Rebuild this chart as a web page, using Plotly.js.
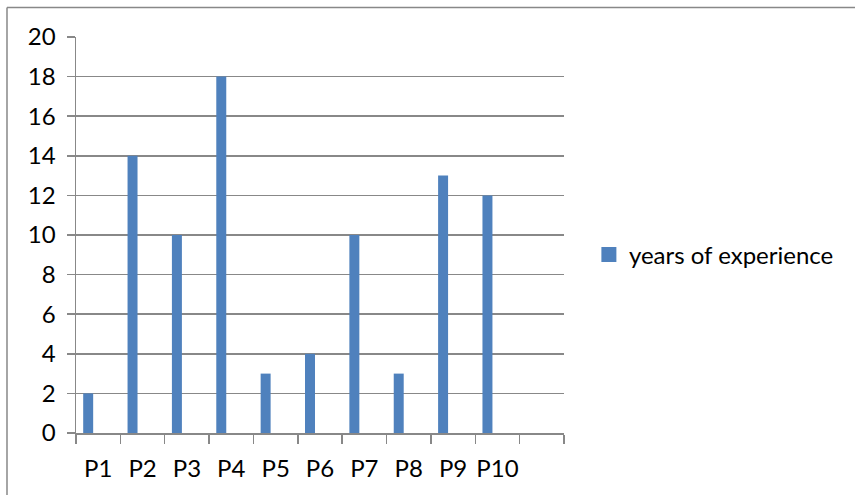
<!DOCTYPE html>
<html>
<head>
<meta charset="utf-8">
<script src="https://cdn.plot.ly/plotly-3.0.1.min.js"></script>
<style>
  html, body { margin: 0; padding: 0; background: #fff; }
  #chart { width: 855px; height: 495px; }
</style>
</head>
<body>
<div id="chart"></div>
<script>
// Participants and their years of experience
const categories = ['P1', 'P2', 'P3', 'P4', 'P5', 'P6', 'P7', 'P8', 'P9', 'P10'];
const years = [2, 14, 10, 18, 3, 4, 10, 3, 13, 12];
const seriesName = 'years of experience';
// one spare slot at the end of the category axis
const axisCategories = categories.concat([' ']);
const yTicks = [0, 2, 4, 6, 8, 10, 12, 14, 16, 18, 20];

const barColor = '#4F81BD';
const gridColor = '#888888';
const textFont = { family: 'Lato, "Open Sans", sans-serif', size: 24, color: '#000000' };

const bars = {
  type: 'bar',
  x: categories,
  y: years,
  name: seriesName,
  legendgroup: 'exp',
  showlegend: false,
  marker: { color: barColor, line: { width: 0 } },
  width: 0.225,
  offset: -0.338,
  hoverinfo: 'x+y'
};

// legend entry with a square swatch for the bar series
const legendKey = {
  type: 'scatter',
  mode: 'markers',
  x: [null],
  y: [null],
  name: seriesName,
  legendgroup: 'exp',
  showlegend: true,
  marker: { symbol: 'square', size: 15, color: barColor },
  hoverinfo: 'skip'
};

// frame on the left and top edges of the chart area
const frameLine = { color: gridColor, width: 1.5 };
const shapes = [
  { type: 'line', xref: 'paper', yref: 'paper', x0: -0.1414, x1: -0.1414, y0: -0.2, y1: 1.0748, line: frameLine },
  { type: 'line', xref: 'paper', yref: 'paper', x0: -0.1414, x1: 1.7, y0: 1.0748, y1: 1.0748, line: frameLine }
];

const layout = {
  width: 855,
  height: 495,
  paper_bgcolor: '#ffffff',
  plot_bgcolor: '#ffffff',
  margin: { l: 76, r: 291, t: 37, b: 61.5, pad: 0 },
  font: textFont,
  showlegend: true,
  legend: {
    x: 1.051, xanchor: 'left',
    y: 0.45, yanchor: 'middle',
    font: textFont,
    bgcolor: 'rgba(0,0,0,0)',
    itemwidth: 30,
    itemsizing: 'trace'
  },
  xaxis: {
    type: 'category',
    categoryorder: 'array',
    categoryarray: axisCategories,
    range: [-0.5, 10.5],
    tickson: 'boundaries',
    tickangle: 0,
    ticks: 'outside',
    ticklen: 9,
    tickwidth: 1.5,
    tickcolor: gridColor,
    showline: true,
    linecolor: gridColor,
    linewidth: 1.5,
    showgrid: false,
    zeroline: false,
    ticklabelstandoff: 14,
    tickfont: textFont,
    fixedrange: true
  },
  yaxis: {
    range: [0, 20],
    tickmode: 'array',
    tickvals: yTicks,
    ticktext: yTicks.map(String),
    ticks: 'outside',
    ticklen: 8,
    tickwidth: 1.5,
    tickcolor: gridColor,
    showline: true,
    linecolor: gridColor,
    linewidth: 1.5,
    showgrid: true,
    gridcolor: gridColor,
    gridwidth: 1.5,
    zeroline: false,
    ticklabelstandoff: 6,
    tickfont: textFont,
    fixedrange: true
  },
  shapes: shapes
};

Plotly.newPlot('chart', [bars, legendKey], layout, { displayModeBar: false, staticPlot: true });
</script>
</body>
</html>
